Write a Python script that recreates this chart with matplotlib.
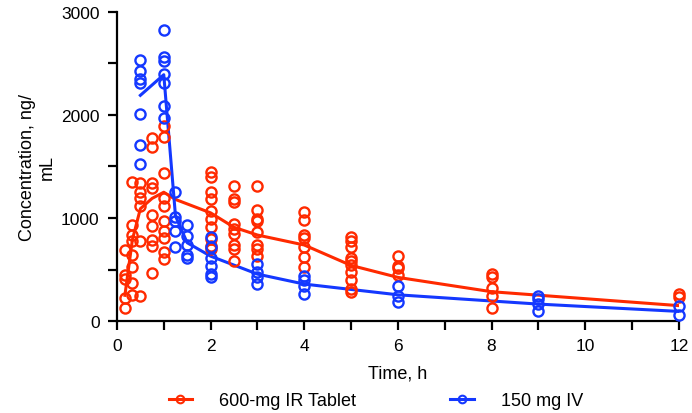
import matplotlib.pyplot as plt
from matplotlib.ticker import MultipleLocator

plt.rcParams['font.family'] = ['Liberation Sans', 'DejaVu Sans']

RED = '#ff2a00'
BLUE = '#1438ff'

# 600-mg IR tablet: individual concentrations per sampling time
ir_times = [0.17, 0.33, 0.5, 0.75, 1.0, 2, 2.5, 3, 4, 5, 6, 8, 12]
ir_conc = [
    [692, 447, 408, 220, 126],
    [1346, 935, 835, 780, 644, 521, 366, 252],
    [1340, 1255, 1191, 1120, 780, 240],
    [1780, 1690, 1340, 1290, 1030, 925, 790, 730, 470],
    [1896, 1783, 1437, 1191, 1120, 968, 877, 803, 673, 602],
    [1443, 1395, 1249, 1184, 1071, 990, 910, 796, 731, 699],
    [1308, 1184, 1152, 942, 893, 845, 738, 699, 585],
    [1314, 1081, 990, 974, 861, 738, 699, 634],
    [1061, 981, 835, 803, 716, 618, 521],
    [812, 780, 716, 608, 585, 544, 473, 401, 311, 279],
    [628, 537, 512, 447],
    [456, 424, 317, 246, 123],
    [262, 230],
]
ir_mean_t = [0.17, 0.33, 0.5, 0.75, 1.0, 1.25, 2, 2.5, 3, 4, 5, 6, 8, 12]
ir_mean = [250, 790, 1090, 1190, 1250, 1180, 1050, 910, 835, 738, 540, 424, 285, 150]

# 150 mg IV
iv_times = [0.5, 1.0, 1.25, 1.5, 2, 3, 4, 6, 9, 12]
iv_conc = [
    [2534, 2430, 2350, 2308, 2010, 1709, 1524],
    [2822, 2563, 2520, 2400, 2305, 2084, 1972],
    [1249, 1007, 975, 877, 716],
    [937, 830, 740, 640, 610],
    [812, 720, 610, 530, 460, 430],
    [553, 473, 424, 359],
    [440, 401, 343, 262],
    [337, 240, 182],
    [240, 214, 165, 100],
    [149, 61],
]
iv_mean_t = [0.5, 1.0, 1.25, 1.5, 2, 3, 4, 6, 9, 12]
iv_mean = [2190, 2390, 1020, 760, 630, 456, 359, 255, 165, 94]

fig = plt.figure(figsize=(6.92, 4.14), dpi=100)
ax = fig.add_axes([0.169, 0.222, 0.812, 0.747])

def draw(times, conc, mt, mv, col, label):
    xs = [t for t, vals in zip(times, conc) for _ in vals]
    ys = [v for vals in conc for v in vals]
    ax.plot(xs, ys, 'o', ms=7.3, mfc='none', mec=col, mew=1.7, clip_on=False, zorder=3)
    ax.plot(mt, mv, '-', color=col, lw=2.2, zorder=2)
    # legend proxy: line with small marker
    ax.plot([], [], '-o', color=col, lw=2.2, ms=5.5, mfc='none', mew=1.5, label=label)

draw(ir_times, ir_conc, ir_mean_t, ir_mean, RED, '600-mg IR Tablet')
draw(iv_times, iv_conc, iv_mean_t, iv_mean, BLUE, '150 mg IV')

ax.set_xlim(0, 12)
ax.set_ylim(0, 3000)
ax.xaxis.set_major_locator(MultipleLocator(2))
ax.xaxis.set_minor_locator(MultipleLocator(1))
ax.yaxis.set_major_locator(MultipleLocator(1000))
ax.yaxis.set_minor_locator(MultipleLocator(500))
for s in ['top', 'right']:
    ax.spines[s].set_visible(False)
for s in ['left', 'bottom']:
    ax.spines[s].set_linewidth(1.6)
ax.tick_params(which='both', width=1.6, length=6.5, labelsize=12.5, pad=6)
ax.set_xlabel('Time, h', fontsize=13, labelpad=8)
ax.set_ylabel('Concentration, ng/\nmL', fontsize=13, labelpad=4)

fig.legend(loc='center', bbox_to_anchor=(0.543, 0.03), ncol=2, frameon=False,
           fontsize=13, handlelength=1.3, handletextpad=1.5, columnspacing=5.2,
           borderpad=0)

fig.savefig('out.png', dpi=100)
